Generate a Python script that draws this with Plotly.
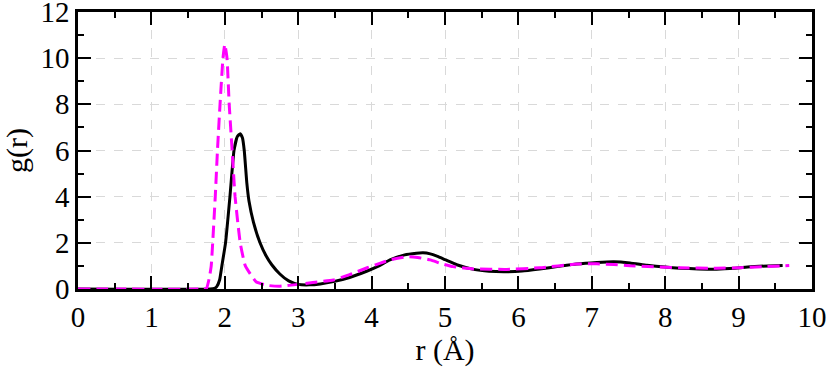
import plotly.graph_objects as go

r_black = [0, 1.80, 1.86, 1.89, 1.93, 1.96, 2.01, 2.07, 2.125, 2.17, 2.21, 2.24, 2.265, 2.30,
           2.33, 2.39, 2.48, 2.56, 2.64, 2.75, 2.87, 3.0, 3.15, 3.3, 3.48, 3.7,
           3.94, 4.1, 4.25, 4.45, 4.61, 4.70, 4.8, 4.89, 5.0, 5.16, 5.39, 5.6, 5.84, 6.05,
           6.29, 6.55, 6.79, 7.07, 7.3, 7.52, 7.75, 8.0, 8.2, 8.45, 8.7, 8.95, 9.16, 9.4, 9.6]
g_black = [0, 0, 0.03, 0.1, 0.4, 1.0, 2.0, 4.0, 6.0, 6.6, 6.73, 6.55, 6.0, 4.6,
           3.8, 2.9, 2.0, 1.45, 1.05, 0.65, 0.35, 0.2, 0.18, 0.22, 0.32, 0.5,
           0.78, 1.0, 1.26, 1.48, 1.55, 1.57, 1.52, 1.42, 1.27, 1.05, 0.85, 0.77, 0.75, 0.78,
           0.87, 0.98, 1.08, 1.15, 1.18, 1.13, 1.03, 0.95, 0.9, 0.87, 0.86, 0.9, 0.96, 1.0, 1.02]

r_magenta = [0, 1.70, 1.75, 1.79, 1.815, 1.835, 1.87, 1.90, 1.935, 1.975, 2.0, 2.03, 2.06,
             2.10, 2.14, 2.21, 2.28, 2.43, 2.6, 2.75, 3.0, 3.2, 3.48, 3.7, 3.94, 4.1, 4.25,
             4.48, 4.6, 4.80, 4.95, 5.11, 5.39, 5.84, 6.29, 6.79, 7.07, 7.3, 7.52, 8.2, 8.7,
             9.0, 9.34, 9.69]
g_magenta = [0, 0, 0.02, 0.5, 1.0, 2.0, 4.0, 6.0, 8.0, 10.0, 10.6, 10.0, 8.0,
             6.0, 4.0, 2.0, 1.0, 0.3, 0.15, 0.12, 0.2, 0.28, 0.39, 0.62, 0.92, 1.1, 1.26,
             1.40, 1.38, 1.26, 1.1, 0.97, 0.87, 0.85, 0.92, 1.08, 1.09, 1.06, 1.01, 0.92, 0.9,
             0.92, 0.97, 1.02]

x_ticks = list(range(0, 11))
y_ticks = list(range(0, 13, 2))

fig = go.Figure()
fig.add_trace(go.Scatter(x=r_black, y=g_black, mode="lines",
                         line=dict(color="black", width=3, shape="spline", smoothing=0.4),
                         showlegend=False))
fig.add_trace(go.Scatter(x=r_magenta, y=g_magenta, mode="lines",
                         line=dict(color="#ff00ff", width=3, dash="12px,6px", shape="spline", smoothing=0.4),
                         showlegend=False))

font_family = "Liberation Serif"
axis_common = dict(
    showline=True, linecolor="black", linewidth=2.5, mirror="ticks",
    ticks="inside", ticklen=13, tickwidth=2, tickcolor="black",
    showgrid=True, gridcolor="#d9d9d9", griddash="dash", gridwidth=1,
    zeroline=False, automargin=False, ticklabeloverflow="allow",
    tickfont=dict(size=29, family=font_family, color="black"),
)
fig.update_layout(
    width=830, height=368,
    margin=dict(l=78, r=18, t=12, b=79),
    paper_bgcolor="white", plot_bgcolor="white",
    font=dict(family=font_family, size=29, color="black"),
)
fig.update_xaxes(
    range=[0, 10], tickvals=x_ticks, ticktext=[str(v) for v in x_ticks],
    minor=dict(dtick=0.5, ticks="inside", ticklen=6, tickwidth=2, tickcolor="black", showgrid=False),
    title=dict(text="r (Å)", font=dict(size=30, family=font_family), standoff=4),
    **axis_common,
)
fig.update_yaxes(
    range=[0, 12], tickvals=y_ticks, ticktext=[str(v) for v in y_ticks],
    minor=dict(dtick=1, ticks="inside", ticklen=6, tickwidth=2, tickcolor="black", showgrid=False),
    title=dict(text="g(r)", font=dict(size=30, family=font_family), standoff=4),
    **axis_common,
)
fig.write_html("out.html", config={"displayModeBar": False},
               post_script="document.body.style.margin='0';document.body.style.overflow='hidden';")
